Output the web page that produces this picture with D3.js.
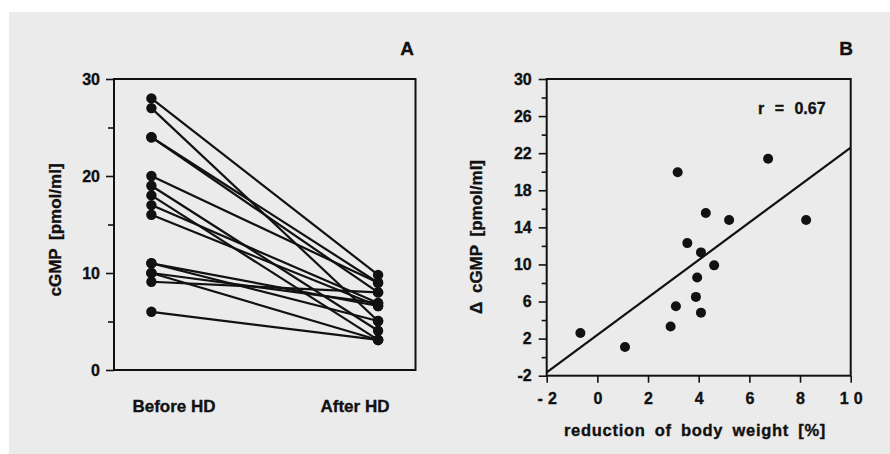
<!DOCTYPE html>
<html>
<head>
<meta charset="utf-8">
<script src="https://cdn.jsdelivr.net/npm/d3@7/dist/d3.min.js"></script>
<style>
  html, body { margin: 0; padding: 0; background: #fff; }
  svg { display: block; }
  text { font-family: 'Liberation Sans', Arial, Helvetica, sans-serif; font-weight: bold; fill: #111; stroke: #111; stroke-width: 0.35; }
  .domain { display: none; }
  .tick line { stroke: #111; stroke-width: 1.6; }
</style>
</head>
<body>
<svg id="chart" width="890" height="454"></svg>
<script>
// ── Data ──────────────────────────────────────────────
const groups = ['Before HD', 'After HD'];
const beforeHD = [28, 27, 24, 24, 20, 19, 18, 17, 16, 11, 11, 10, 10, 9.1, 6];
const afterHD  = [9.8, 5.05, 9.0, 8.0, 9.0, 4.05, 3.1, 6.9, 6.6, 5.05, 6.6, 3.1, 6.9, 8.0, 3.1];
const ticksA = [0, 10, 20, 30];
const minorA = [5, 15, 25];

const weightLoss = [-0.67, 1.09, 2.89, 3.10, 3.17, 3.55, 3.89, 3.94, 4.09, 4.09, 4.28, 4.61, 5.20, 6.74, 8.24];
const deltaCGMP  = [2.6, 1.1, 3.3, 5.5, 19.95, 12.3, 6.5, 8.6, 4.8, 11.3, 15.55, 9.9, 14.8, 21.4, 14.8];
const ticksBx = [-2, 0, 2, 4, 6, 8, 10];
const ticksBy = [-2, 2, 6, 10, 14, 18, 22, 26, 30];
const minorBy = [0, 4, 8, 12, 16, 20, 24, 28];
const fit = { slope: 2.02, intercept: 2.4, r: 0.67 };

const svg = d3.select('#chart');
const plain = d => String(d); // hyphen minus, like the original

// background panel
svg.append('rect')
  .attr('x', 9).attr('y', 12)
  .attr('width', 881).attr('height', 442)
  .attr('fill', '#ebebeb');

// ═══════════════════════════════════════════════════════
// PANEL A
// ═══════════════════════════════════════════════════════
const frameA = { left: 114, right: 415.5, top: 79, bottom: 370 };
const xA = d3.scalePoint().domain(groups).range([frameA.left, frameA.right]).padding(0.165);
const xLabA = d3.scalePoint().domain(groups).range([174, 355]);
const yA = d3.scaleLinear().domain([0, 30]).range([frameA.bottom, frameA.top]);

const gA = svg.append('g');

gA.append('rect')
  .attr('x', frameA.left).attr('y', frameA.top)
  .attr('width', frameA.right - frameA.left).attr('height', frameA.bottom - frameA.top)
  .attr('fill', 'none').attr('stroke', '#111').attr('stroke-width', 2);

gA.append('g')
  .attr('transform', `translate(${frameA.left},0)`)
  .call(d3.axisLeft(yA).tickValues(ticksA).tickSize(8).tickPadding(6).tickFormat(plain))
  .call(s => s.selectAll('text').attr('font-size', 16));

gA.append('g')
  .attr('transform', `translate(${frameA.left},0)`)
  .call(d3.axisLeft(yA).tickValues(minorA).tickSize(6).tickFormat(''));

// paired lines
const pairs = beforeHD.map((b, i) => ({ before: b, after: afterHD[i] }));
gA.append('g').selectAll('line')
  .data(pairs)
  .join('line')
  .attr('x1', xA(groups[0])).attr('y1', d => yA(d.before))
  .attr('x2', xA(groups[1])).attr('y2', d => yA(d.after))
  .attr('stroke', '#111').attr('stroke-width', 2.2);

gA.append('g').selectAll('circle')
  .data(beforeHD)
  .join('circle')
  .attr('cx', xA(groups[0])).attr('cy', d => yA(d)).attr('r', 5.2).attr('fill', '#111');

gA.append('g').selectAll('circle')
  .data(afterHD)
  .join('circle')
  .attr('cx', xA(groups[1])).attr('cy', d => yA(d)).attr('r', 5.2).attr('fill', '#111');

gA.append('g').selectAll('text')
  .data(groups)
  .join('text')
  .attr('x', d => xLabA(d)).attr('y', 412)
  .attr('text-anchor', 'middle')
  .attr('font-size', 17)
  .text(d => d);

gA.append('text')
  .attr('transform', 'translate(61,230) rotate(-90)')
  .attr('text-anchor', 'middle')
  .attr('font-size', 17)
  .attr('word-spacing', 4)
  .text('cGMP [pmol/ml]');

gA.append('text')
  .attr('x', 407).attr('y', 55)
  .attr('text-anchor', 'middle')
  .attr('font-size', 19)
  .text('A');

// ═══════════════════════════════════════════════════════
// PANEL B
// ═══════════════════════════════════════════════════════
const frameB = { left: 546.7, right: 850.7, top: 79, bottom: 375.7 };
const xB = d3.scaleLinear().domain([-2, 10]).range([frameB.left, frameB.right]);
const yB = d3.scaleLinear().domain([-2, 30]).range([frameB.bottom, frameB.top]);

const gB = svg.append('g');

gB.append('rect')
  .attr('x', frameB.left).attr('y', frameB.top)
  .attr('width', frameB.right - frameB.left).attr('height', frameB.bottom - frameB.top)
  .attr('fill', 'none').attr('stroke', '#111').attr('stroke-width', 2);

gB.append('g')
  .attr('transform', `translate(${frameB.left},0)`)
  .call(d3.axisLeft(yB).tickValues(ticksBy).tickSize(8).tickPadding(7).tickFormat(plain))
  .call(s => s.selectAll('text').attr('font-size', 16));

gB.append('g')
  .attr('transform', `translate(${frameB.left},0)`)
  .call(d3.axisLeft(yB).tickValues(minorBy).tickSize(5).tickFormat(''));

gB.append('g')
  .attr('transform', `translate(0,${frameB.bottom})`)
  .call(d3.axisBottom(xB).tickValues(ticksBx).tickSize(7).tickPadding(10).tickFormat(plain))
  .call(s => s.selectAll('text')
    .attr('font-size', 16)
    .attr('letter-spacing', d => String(d).length > 1 ? 5 : 0)
    .attr('dx', d => String(d).length > 1 ? 2.5 : 0));

// regression line
const [x0, x1] = xB.domain();
gB.append('line')
  .attr('x1', xB(x0)).attr('y1', yB(fit.intercept + fit.slope * x0))
  .attr('x2', xB(x1)).attr('y2', yB(fit.intercept + fit.slope * x1))
  .attr('stroke', '#111').attr('stroke-width', 2.2);

gB.append('g').selectAll('circle')
  .data(weightLoss.map((w, i) => ({ w, d: deltaCGMP[i] })))
  .join('circle')
  .attr('cx', d => xB(d.w)).attr('cy', d => yB(d.d))
  .attr('r', 5).attr('fill', '#111');

gB.append('text')
  .attr('x', 758).attr('y', 114)
  .attr('font-size', 16)
  .attr('word-spacing', 6)
  .text(`r = ${fit.r}`);

gB.append('text')
  .attr('x', 695).attr('y', 436)
  .attr('text-anchor', 'middle')
  .attr('font-size', 16.5)
  .attr('letter-spacing', 0.7)
  .attr('word-spacing', 4)
  .text('reduction of body weight [%]');

gB.append('text')
  .attr('transform', 'translate(482,237) rotate(-90)')
  .attr('text-anchor', 'middle')
  .attr('font-size', 17)
  .attr('word-spacing', 4)
  .text('Δ cGMP [pmol/ml]');

gB.append('text')
  .attr('x', 846).attr('y', 55)
  .attr('text-anchor', 'middle')
  .attr('font-size', 19)
  .text('B');
</script>
</body>
</html>
